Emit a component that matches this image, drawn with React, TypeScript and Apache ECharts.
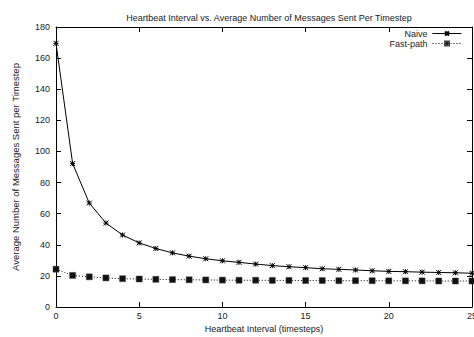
import React, { useEffect, useRef } from "react";
import * as echarts from "echarts";

const intervals = [0, 1, 2, 3, 4, 5, 6, 7, 8, 9, 10, 11, 12, 13, 14, 15, 16, 17, 18, 19, 20, 21, 22, 23, 24, 25];
const naive = [169.5, 92.2, 66.8, 54.0, 46.3, 41.2, 37.6, 34.8, 32.7, 31.0, 29.7, 28.7, 27.6, 26.6, 25.9, 25.3, 24.6, 24.2, 23.8, 23.3, 22.9, 22.7, 22.4, 22.2, 22.0, 21.7];
const fastPath = [24.3, 20.3, 19.4, 18.7, 18.2, 18.0, 17.8, 17.6, 17.5, 17.4, 17.3, 17.2, 17.2, 17.1, 17.1, 17.0, 17.0, 16.9, 16.9, 16.9, 16.8, 16.8, 16.8, 16.7, 16.7, 16.7];

const titleText = "Heartbeat Interval vs. Average Number of Messages Sent Per Timestep";
const xName = "Heartbeat Interval (timesteps)";
const yName = "Average Number of Messages Sent per Timestep";
const seriesNames = ["Naive", "Fast-path"];

const FONT = "Liberation Sans, Arial, Helvetica, sans-serif";

export default function App() {
  const ref = useRef<HTMLDivElement>(null);
  useEffect(() => {
    if (!ref.current) return;
    const chart = echarts.init(ref.current, null, { renderer: "svg" });
    const tick = { show: true, inside: true, length: 5, lineStyle: { color: "#000", width: 1 } };
    const axLine = { show: true, onZero: false, lineStyle: { color: "#000", width: 1 } };
    const label = { color: "#222", fontSize: 9, fontFamily: FONT };
    const legendBase = {
      orient: "horizontal",
      align: "right",
      right: 12,
      itemWidth: 29,
      itemHeight: 5,
      itemGap: 4,
      textStyle: { color: "#222", fontSize: 9, fontFamily: FONT, padding: [0, 0, 0, 0] },
      padding: 0,
      lineStyle: { width: 1 },
    };
    chart.setOption({
      animation: false,
      backgroundColor: "#fff",
      textStyle: { fontFamily: FONT },
      title: {
        text: titleText,
        left: 264,
        textAlign: "center",
        top: 8,
        textStyle: { color: "#222", fontSize: 9, fontWeight: "normal", fontFamily: FONT },
      },
      legend: [
        { ...legendBase, top: 29, data: [seriesNames[0]] },
        { ...legendBase, top: 39, data: [seriesNames[1]] },
      ],
      grid: { left: 56, top: 27, width: 416, height: 280, containLabel: false, outerBoundsMode: "none" },
      xAxis: [
        {
          type: "value",
          min: 0,
          max: 25,
          interval: 5,
          name: xName,
          nameLocation: "middle",
          nameGap: 17,
          nameTextStyle: { color: "#222", fontSize: 9, fontFamily: FONT },
          axisLine: axLine,
          axisTick: tick,
          axisLabel: { ...label, margin: 4 },
          splitLine: { show: false },
        },
        {
          type: "value",
          position: "top",
          min: 0,
          max: 25,
          interval: 5,
          axisLine: axLine,
          axisTick: tick,
          axisLabel: { show: false },
          splitLine: { show: false },
        },
      ],
      yAxis: [
        {
          type: "value",
          min: 0,
          max: 180,
          interval: 20,
          name: yName,
          nameLocation: "middle",
          nameGap: 36,
          nameTextStyle: { color: "#222", fontSize: 9.5, fontFamily: FONT },
          axisLine: axLine,
          axisTick: tick,
          axisLabel: { ...label, margin: 6 },
          splitLine: { show: false },
        },
        {
          type: "value",
          position: "right",
          min: 0,
          max: 180,
          interval: 20,
          axisLine: axLine,
          axisTick: tick,
          axisLabel: { show: false },
          splitLine: { show: false },
        },
      ],
      series: [
        {
          name: seriesNames[0],
          type: "line",
          data: intervals.map((x, i) => [x, naive[i]]),
          symbol: "path://M0,0 L6,6 M6,0 L0,6 M3,0 L3,6 M0,3 L6,3",
          symbolSize: 5,
          showSymbol: true,
          lineStyle: { color: "#000", width: 1, type: "solid" },
          itemStyle: { color: "#000", borderColor: "#000", borderWidth: 1 },
        },
        {
          name: seriesNames[1],
          type: "line",
          data: intervals.map((x, i) => [x, fastPath[i]]),
          symbol: "rect",
          symbolSize: 6,
          showSymbol: true,
          lineStyle: { color: "#000", width: 1, type: [1, 2] },
          itemStyle: { color: "#111", borderColor: "#444", borderWidth: 0.5 },
        },
      ],
    });
    return () => chart.dispose();
  }, []);
  return (
    <div
      ref={ref}
      style={{ position: "fixed", left: 0, top: 0, width: 474, height: 337, background: "#fff" }}
    />
  );
}
